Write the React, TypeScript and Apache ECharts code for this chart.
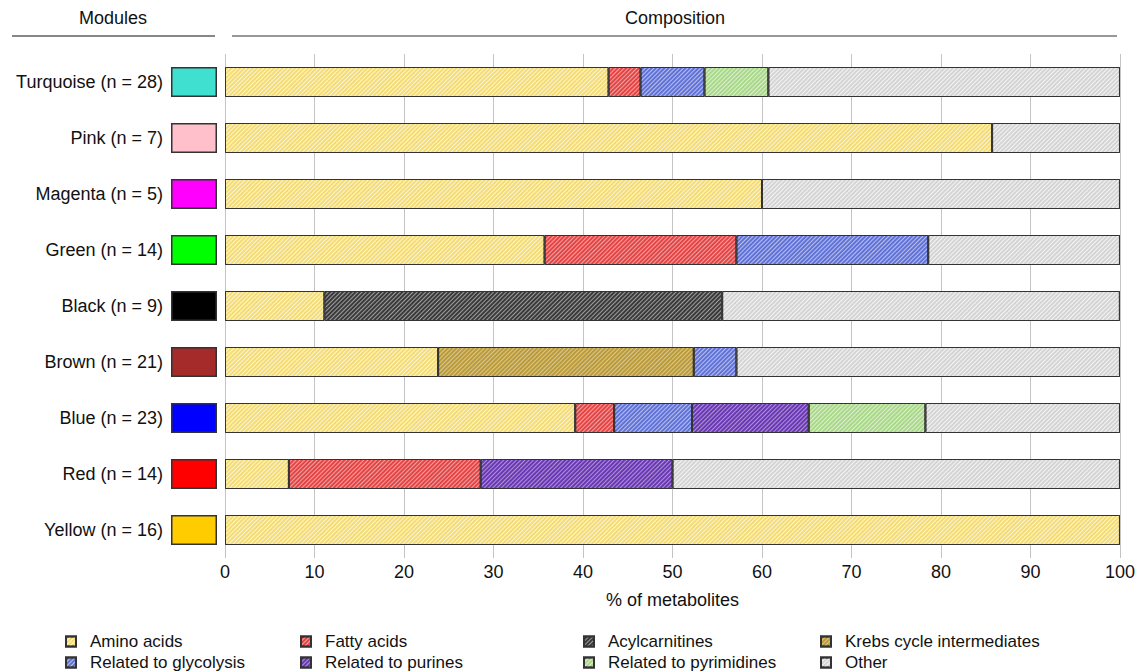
import React, { useEffect, useRef } from "react";
import * as echarts from "echarts";

const modules = ["Turquoise", "Pink", "Magenta", "Green", "Black", "Brown", "Blue", "Red", "Yellow"];
const counts = [28, 7, 5, 14, 9, 21, 23, 14, 16];
const moduleColors = ["#40E0D0", "#FFC0CB", "#FF00FF", "#00FF00", "#000000", "#A52A2A", "#0000FF", "#FF0000", "#FFCC00"];

const aminoAcids = [42.86, 85.71, 60, 35.71, 11.11, 23.81, 39.13, 7.14, 100];
const fattyAcids = [3.57, null, null, 21.43, null, null, 4.35, 21.43, null];
const acylcarnitines = [null, null, null, null, 44.44, null, null, null, null];
const krebsCycle = [null, null, null, null, null, 28.57, null, null, null];
const glycolysis = [7.14, null, null, 21.43, null, 4.76, 8.7, null, null];
const purines = [null, null, null, null, null, null, 13.04, 21.43, null];
const pyrimidines = [7.14, null, null, null, null, null, 13.04, null, null];
const other = [39.29, 14.29, 40, 21.43, 44.44, 42.86, 21.74, 50, null];

const categorySeries = [
  { name: "Amino acids", data: aminoAcids, color: "#f4dc72", stripe: "rgba(255,255,255,0.7)" },
  { name: "Fatty acids", data: fattyAcids, color: "#e54444", stripe: "rgba(255,255,255,0.5)" },
  { name: "Acylcarnitines", data: acylcarnitines, color: "#3a3a3a", stripe: "rgba(255,255,255,0.5)" },
  { name: "Krebs cycle intermediates", data: krebsCycle, color: "#bb9a38", stripe: "rgba(255,255,255,0.45)" },
  { name: "Related to glycolysis", data: glycolysis, color: "#6072d8", stripe: "rgba(255,255,255,0.55)" },
  { name: "Related to purines", data: purines, color: "#6a38b4", stripe: "rgba(255,255,255,0.45)" },
  { name: "Related to pyrimidines", data: pyrimidines, color: "#a8d888", stripe: "rgba(255,255,255,0.6)" },
  { name: "Other", data: other, color: "#d4d4d4", stripe: "rgba(255,255,255,0.75)" },
];

const FONT = "Liberation Sans, Arial, sans-serif";

export default function App() {
  const ref = useRef<HTMLDivElement>(null);
  useEffect(() => {
    if (!ref.current) return;
    const chart = echarts.init(ref.current, null, { renderer: "svg" });
    const legendCols = [
      { left: 60, names: ["Amino acids", "Related to glycolysis"] },
      { left: 295, names: ["Fatty acids", "Related to purines"] },
      { left: 578, names: ["Acylcarnitines", "Related to pyrimidines"] },
      { left: 815, names: ["Krebs cycle intermediates", "Other"] },
    ];
    const option: any = {
      animation: false,
      textStyle: { fontFamily: FONT },
      grid: [
        { left: 225, right: 17, top: 54, bottom: 114 },
        { left: 171, width: 46, top: 54, bottom: 114 },
      ],
      xAxis: [
        {
          type: "value",
          gridIndex: 0,
          min: 0,
          max: 100,
          interval: 10,
          axisLine: { show: false },
          axisTick: { show: false },
          splitLine: { show: true, lineStyle: { color: "#c4c4c4", width: 1 } },
          axisLabel: { fontSize: 18, color: "#111", margin: 5, fontFamily: FONT },
          name: "% of metabolites",
          nameLocation: "middle",
          nameGap: 33,
          nameTextStyle: { fontSize: 18, color: "#111", fontFamily: FONT },
        },
        { type: "value", gridIndex: 1, min: 0, max: 1, show: false },
      ],
      yAxis: [
        {
          type: "category",
          gridIndex: 0,
          data: modules,
          inverse: true,
          show: false,
        },
        {
          type: "category",
          gridIndex: 1,
          data: modules,
          inverse: true,
          axisLine: { show: false },
          axisTick: { show: false },
          axisLabel: {
            fontSize: 18,
            color: "#111",
            margin: 8,
            fontFamily: FONT,
            formatter: (v: string, i: number) => `${v} (n = ${counts[i]})`,
          },
        },
      ],
      legend: legendCols.map((c) => ({
        orient: "vertical",
        left: c.left,
        top: 628,
        height: 60,
        data: c.names,
        icon: "rect",
        itemWidth: 10,
        itemHeight: 10,
        itemGap: 4,
        selectedMode: false,
        textStyle: { fontSize: 17, color: "#111", fontFamily: FONT, padding: [0, 0, 0, 9] },
      })),
      series: [
        ...categorySeries.map((s) => ({
          name: s.name,
          type: "bar",
          stack: "total",
          xAxisIndex: 0,
          yAxisIndex: 0,
          barWidth: 30,
          data: s.data.map((v) => (v == null ? "-" : v)),
          itemStyle: {
            color: s.color,
            borderColor: "#333",
            borderWidth: 1,
            decal: {
              symbol: "rect",
              symbolSize: 1,
              dashArrayX: [1, 0],
              dashArrayY: [1, 1.5],
              rotation: -Math.PI / 4,
              color: s.stripe,
            },
          },
        })),
        {
          name: "Modules",
          type: "bar",
          xAxisIndex: 1,
          yAxisIndex: 1,
          barWidth: 30,
          data: moduleColors.map((c) => ({
            value: 1,
            itemStyle: { color: c, borderColor: "#333", borderWidth: 1.5 },
          })),
        },
      ],
      graphic: [
        {
          type: "text",
          x: 113,
          y: 18,
          style: { text: "Modules", fontSize: 18, fill: "#111", fontFamily: FONT, align: "center", verticalAlign: "middle" },
        },
        {
          type: "text",
          x: 675,
          y: 18,
          style: { text: "Composition", fontSize: 18, fill: "#111", fontFamily: FONT, align: "center", verticalAlign: "middle" },
        },
        {
          type: "line",
          shape: { x1: 12, y1: 36, x2: 215, y2: 36 },
          style: { stroke: "#111", lineWidth: 1.2 },
        },
        {
          type: "line",
          shape: { x1: 232, y1: 36, x2: 1117, y2: 36 },
          style: { stroke: "#333", lineWidth: 1.2 },
        },
      ],
    };
    chart.setOption(option);
    return () => chart.dispose();
  }, []);
  return (
    <div
      ref={ref}
      style={{ position: "fixed", left: 0, top: 0, width: 1138, height: 672, background: "#fff" }}
    />
  );
}
